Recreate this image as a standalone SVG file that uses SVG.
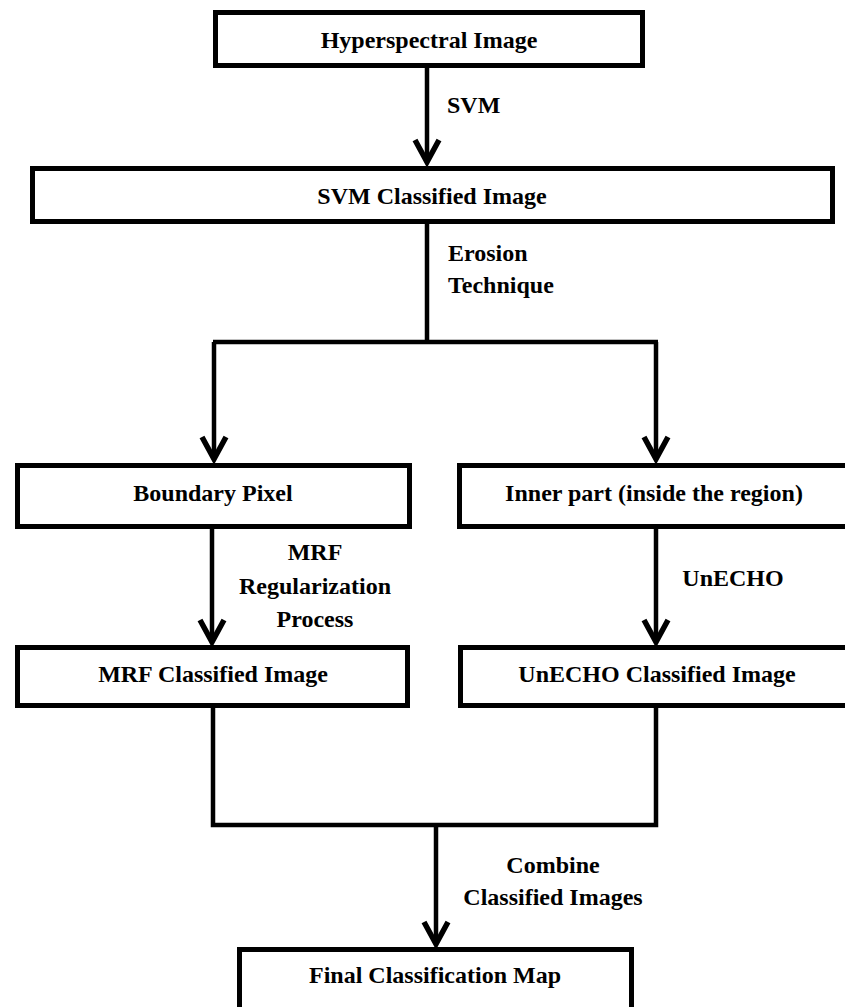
<svg xmlns="http://www.w3.org/2000/svg" width="845" height="1007" viewBox="0 0 845 1007">
<style>
.box{fill:#fff;stroke:#000;stroke-width:5}
.ln{fill:none;stroke:#000;stroke-width:4.5}
text{font-family:"Liberation Serif","Times New Roman",serif;font-weight:bold;font-size:24px;fill:#000}
.c{text-anchor:middle}
</style>
<defs>
<marker id="arr" markerUnits="userSpaceOnUse" viewBox="-28 -16 32 32" refX="0" refY="0" markerWidth="32" markerHeight="32" orient="auto">
<path d="M-22,-12 L0,0 L-22,12" fill="none" stroke="#000" stroke-width="5.5" stroke-linejoin="miter"/>
</marker>
</defs>
<rect width="845" height="1007" fill="#fff"/>
<g id="connectors">
<path class="ln" d="M427,68 V162" marker-end="url(#arr)"/>
<path class="ln" d="M427,224 V342 M213,342 H658"/>
<path class="ln" d="M214,342 V459" marker-end="url(#arr)"/>
<path class="ln" d="M656,342 V459" marker-end="url(#arr)"/>
<path class="ln" d="M212,529 V642" marker-end="url(#arr)"/>
<path class="ln" d="M656,529 V642" marker-end="url(#arr)"/>
<path class="ln" d="M213,708 V825 H656 V708"/>
<path class="ln" d="M436,825 V944" marker-end="url(#arr)"/>
<text x="447" y="113">SVM</text>
<text x="448" y="261">Erosion</text>
<text x="448" y="293">Technique</text>
<text class="c" x="315" y="560">MRF</text>
<text class="c" x="315" y="594">Regularization</text>
<text class="c" x="315" y="627">Process</text>
<text class="c" x="733" y="586">UnECHO</text>
<text class="c" x="553" y="873">Combine</text>
<text class="c" x="553" y="905">Classified Images</text>
</g>
<g id="hyperspectral">
<rect class="box" x="215.5" y="12.5" width="427" height="53"/>
<text class="c" x="429" y="48">Hyperspectral Image</text>
</g>
<g id="svm">
<rect class="box" x="32.5" y="168.5" width="800" height="53"/>
<text class="c" x="432" y="204">SVM Classified Image</text>
</g>
<g id="boundary">
<rect class="box" x="17.5" y="465.5" width="392" height="61"/>
<text class="c" x="213" y="501">Boundary Pixel</text>
</g>
<g id="inner">
<rect class="box" x="459.5" y="465.5" width="400" height="61"/>
<text class="c" x="654" y="501">Inner part (inside the region)</text>
</g>
<g id="mrf">
<rect class="box" x="17.5" y="647.5" width="390" height="58"/>
<text class="c" x="213" y="682">MRF Classified Image</text>
</g>
<g id="unecho">
<rect class="box" x="460.5" y="647.5" width="400" height="58"/>
<text class="c" x="657" y="682">UnECHO Classified Image</text>
</g>
<g id="final">
<rect class="box" x="239.5" y="949.5" width="392" height="70"/>
<text class="c" x="435" y="983">Final Classification Map</text>
</g>
</svg>
